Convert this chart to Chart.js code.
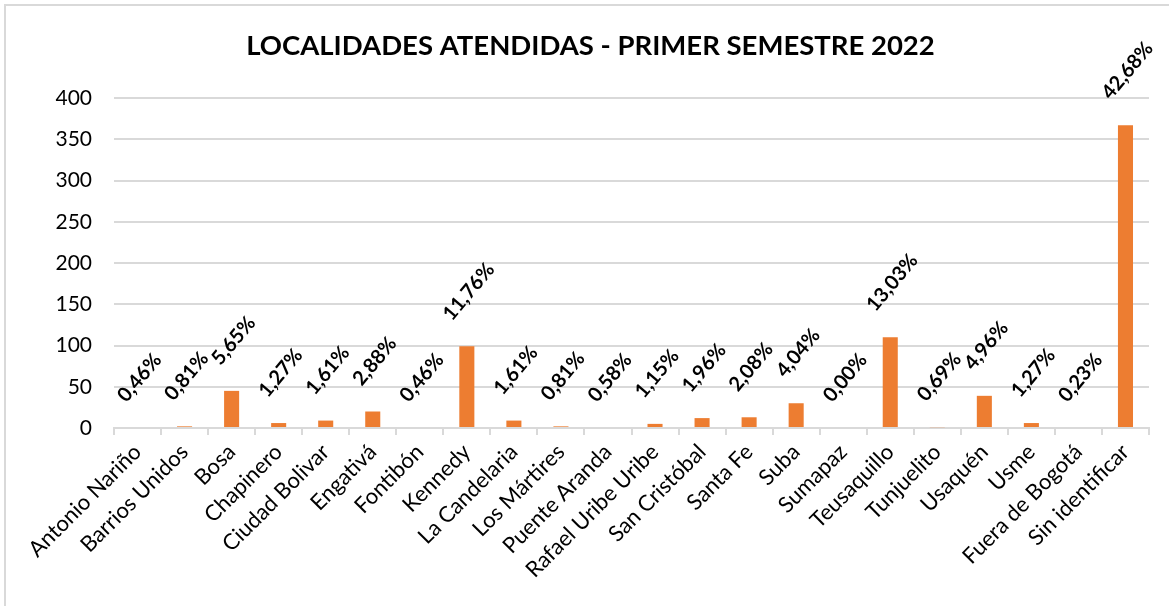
<!DOCTYPE html>
<html>
<head>
<meta charset="utf-8">
<script src="https://cdn.jsdelivr.net/npm/chart.js@4.4.1/dist/chart.umd.min.js"></script>
<style>
  body { margin: 0; background: #fff; }
  #wrap { width: 1169px; height: 606px; position: relative; }
</style>
</head>
<body>
<div id="wrap"><canvas id="localidadesChart"></canvas></div>
<script>
const localidades = ['Antonio Nariño', 'Barrios Unidos', 'Bosa', 'Chapinero', 'Ciudad Bolivar', 'Engativá',
  'Fontibón', 'Kennedy', 'La Candelaria', 'Los Mártires', 'Puente Aranda', 'Rafael Uribe Uribe',
  'San Cristóbal', 'Santa Fe', 'Suba', 'Sumapaz', 'Teusaquillo', 'Tunjuelito', 'Usaquén', 'Usme',
  'Fuera de Bogotá', 'Sin identificar'];
const atendidos = [0, 2, 45, 6, 9, 20, 0, 99, 9, 2, 0, 5, 12, 13, 30, 0, 110, 1, 39, 6, 0, 367];
const porcentajes = ['0,46%', '0,81%', '5,65%', '1,27%', '1,61%', '2,88%', '0,46%', '11,76%', '1,61%',
  '0,81%', '0,58%', '1,15%', '1,96%', '2,08%', '4,04%', '0,00%', '13,03%', '0,69%', '4,96%', '1,27%',
  '0,23%', '42,68%'];
const yTicks = [0, 50, 100, 150, 200, 250, 300, 350, 400];

// marco gris del grafico (solo arriba e izquierda se ven)
const marcoPlugin = {
  id: 'marco',
  beforeDraw(chart) {
    const ctx = chart.ctx;
    ctx.save();
    ctx.fillStyle = '#fff';
    ctx.fillRect(0, 0, chart.width, chart.height);
    ctx.strokeStyle = '#d9d9d9';
    ctx.lineWidth = 2;
    ctx.beginPath();
    ctx.moveTo(5, chart.height + 5);
    ctx.lineTo(5, 5);
    ctx.lineTo(chart.width + 5, 5);
    ctx.stroke();
    ctx.restore();
  }
};

// etiquetas de porcentaje giradas
const etiquetasPlugin = {
  id: 'etiquetas',
  afterDatasetsDraw(chart) {
    const ctx = chart.ctx;
    const meta = chart.getDatasetMeta(0);
    const ang = 50 * Math.PI / 180;
    ctx.save();
    ctx.font = 'bold 20px Lato';
    ctx.fillStyle = '#000';
    meta.data.forEach((bar, i) => {
      const txt = porcentajes[i];
      const w = ctx.measureText(txt).width;
      const half = (w * Math.sin(ang) + 15 * Math.cos(ang)) / 2;
      ctx.save();
      ctx.translate(bar.x + 2, bar.y - 24 - half);
      ctx.rotate(-ang);
      ctx.textAlign = 'center';
      ctx.textBaseline = 'middle';
      ctx.fillText(txt, 0, 0);
      ctx.restore();
    });
    ctx.restore();
  }
};

const ctx = document.getElementById('localidadesChart').getContext('2d');
new Chart(ctx, {
  type: 'bar',
  data: {
    labels: localidades,
    datasets: [{
      data: atendidos,
      backgroundColor: '#ED7D31',
      categoryPercentage: 1,
      barPercentage: 0.32
    }]
  },
  options: {
    responsive: true,
    maintainAspectRatio: false,
    animation: false,
    layout: { padding: { left: 32, right: 20 } },
    plugins: {
      legend: { display: false },
      tooltip: { enabled: false },
      title: {
        display: true,
        text: 'LOCALIDADES ATENDIDAS - PRIMER SEMESTRE 2022',
        color: '#000',
        font: { family: 'Lato', size: 27.5, weight: 'bold' },
        padding: { top: 30, bottom: 35 }
      }
    },
    scales: {
      x: {
        grid: { drawOnChartArea: false, drawTicks: true, tickLength: 7, color: '#d9d9d9', lineWidth: 2, offset: true },
        border: { color: '#d9d9d9', width: 2 },
        ticks: { minRotation: 45, maxRotation: 45, color: '#000', font: { family: 'Lato', size: 22 }, padding: 4 },
        afterFit: s => { s.height = 178; }
      },
      y: {
        min: 0,
        max: 400,
        afterBuildTicks: s => { s.ticks = yTicks.map(v => ({ value: v })); },
        grid: { color: '#d9d9d9', lineWidth: 2, drawTicks: false },
        border: { display: false },
        ticks: { color: '#000', font: { family: 'Lato', size: 21 }, padding: 22 },
        afterFit: s => { s.width = 82; }
      }
    }
  },
  plugins: [marcoPlugin, etiquetasPlugin]
});
</script>
</body>
</html>
